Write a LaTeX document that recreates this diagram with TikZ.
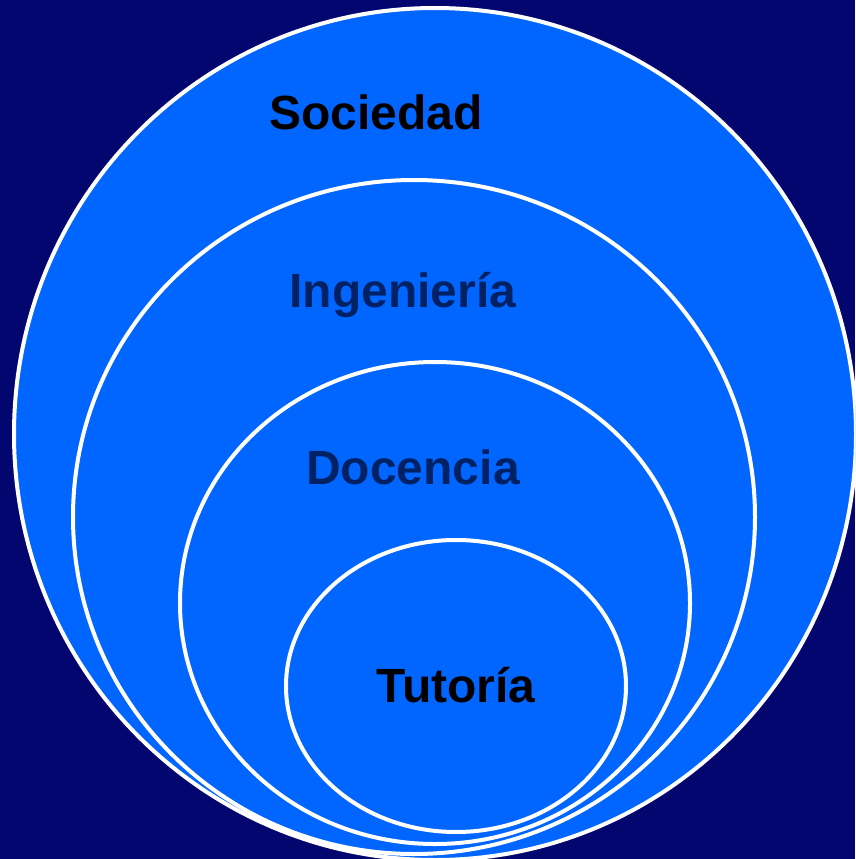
\documentclass[tikz,border=0pt]{standalone}
\usepackage{fontspec}
\setmainfont{Liberation Sans}
\definecolor{bgnavy}{RGB}{4,6,112}
\definecolor{fillblue}{RGB}{0,102,255}
\definecolor{txtnavy}{RGB}{0,34,100}
\tikzset{
  ring/.style={draw=white, line width=4pt, fill=fillblue},
  lbl/.style={font=\bfseries\fontsize{48}{50}\selectfont, anchor=base, inner sep=0pt}
}
\begin{document}
\begin{tikzpicture}[x=1pt,y=-1pt]
  \fill[bgnavy] (0,0) rectangle (855,859);
  \useasboundingbox (0,0) rectangle (855,859);
  \begin{scope}
    \clip (0,0) rectangle (855,859);
    \draw[ring] (435,434) ellipse [x radius=421, y radius=426];
    \draw[ring] (414,517) ellipse [x radius=341, y radius=337];
    \draw[ring] (435,603) ellipse [x radius=255, y radius=241];
    \draw[ring] (456,686) ellipse [x radius=170, y radius=146];
  \end{scope}
  \node[lbl, text=black] (soc) at (376,129) {Sociedad};
  \node[lbl, text=txtnavy] (ing) at (403,307) {Ingeniería};
  \node[lbl, text=txtnavy] (doc) at (413,484) {Docencia};
  \node[lbl, text=black] (tut) at (456,702) {Tutoría};
\end{tikzpicture}
\end{document}
